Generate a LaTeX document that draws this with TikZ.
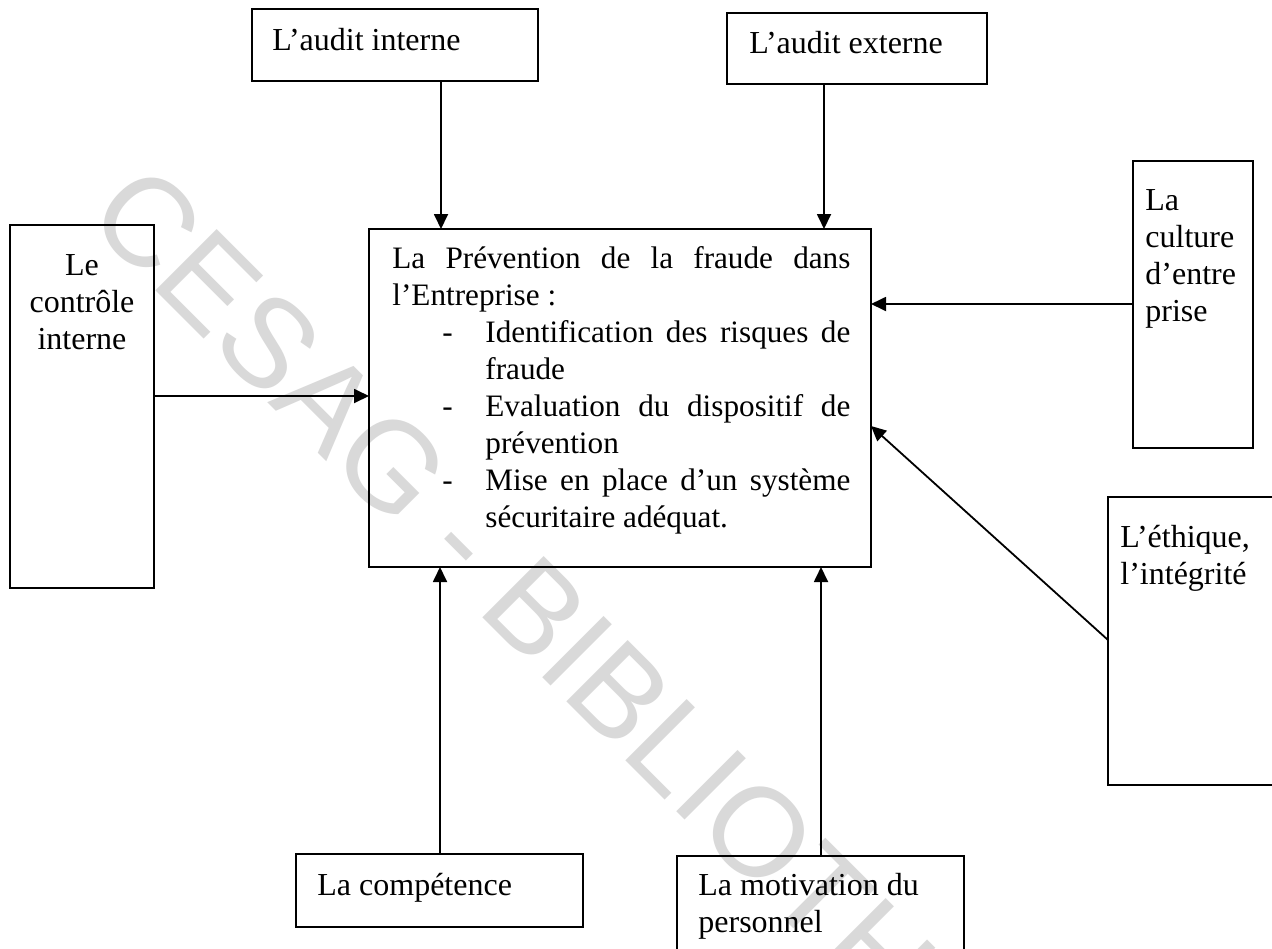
\documentclass[tikz,border=0pt]{standalone}
\usepackage{fontspec}
\setmainfont{Liberation Serif}
\newfontfamily\wmfont{Liberation Sans}
\usetikzlibrary{arrows.meta}
\begin{document}
\begin{tikzpicture}[x=0.5pt, y=-0.5pt,
  box/.style={draw, line width=1.1pt, inner sep=0pt, outer sep=0pt},
  conn/.style={-{Triangle[length=7.5pt,width=7pt]}, line width=0.9pt},
  txt/.style={inner sep=0pt, anchor=base west, font=\fontsize{16pt}{18.5pt}\selectfont},
  wmark/.style={rotate=-45, anchor=base west, inner sep=0pt, text=black!15, font=\wmfont\fontsize{63pt}{63pt}\selectfont}]
\useasboundingbox (0,0) rectangle (1272,948);
\clip (0,0) rectangle (1272,948);
\fill[white] (0,0) rectangle (1272,948);
% watermark
\node[wmark] (wm) at (84,219) {CESAG - BIBLIOTHEQUE};
% boxes
\node[box, minimum width=143pt, minimum height=36pt] (ai) at (395,45) {};
\node[box, minimum width=130pt, minimum height=35.5pt] (ae) at (857,48.5) {};
\node[box, minimum width=251pt, minimum height=169pt] (cen) at (620,398) {};
\node[box, minimum width=72pt, minimum height=181.5pt] (ci) at (82,406.5) {};
\node[box, minimum width=60pt, minimum height=143.5pt] (cu) at (1193,304.5) {};
\node[box, minimum width=93.5pt, minimum height=144pt] (et) at (1201.5,641) {};
\node[box, minimum width=143.5pt, minimum height=36.5pt] (co) at (439.5,890.5) {};
\node[box, minimum width=143.5pt, minimum height=62pt] (mo) at (820.5,918) {};
% texts
\node[txt] (tai) at (272,50) {L’audit interne};
\node[txt] (tae) at (749,53) {L’audit externe};
\node[txt, anchor=base] (tci) at (82,275) {\begin{tabular}[t]{@{}c@{}}Le\\contrôle\\interne\end{tabular}};
\node[txt] (tcu) at (1145,210) {\begin{tabular}[t]{@{}l@{}}La\\culture\\d’entre\\prise\end{tabular}};
\node[txt] (tet) at (1120,547) {\begin{tabular}[t]{@{}l@{}}L’éthique,\\l’intégrité\end{tabular}};
\node[txt] (tco) at (317,895) {La compétence};
\node[txt] (tmo) at (698,895) {\begin{tabular}[t]{@{}l@{}}La motivation du\\personnel\end{tabular}};
\node[txt, font=\fontsize{15.6pt}{18.5pt}\selectfont] (tcen) at (392,268) {\parbox[t]{229pt}{\parindent=0pt
La Prévention de la fraude dans\linebreak l’Entreprise~:\par
{\leftskip=46.5pt\noindent\llap{\makebox[21.5pt][l]{-}}Identification des risques de\linebreak fraude\par}
{\leftskip=46.5pt\noindent\llap{\makebox[21.5pt][l]{-}}Evaluation du dispositif de\linebreak prévention\par}
{\leftskip=46.5pt\noindent\llap{\makebox[21.5pt][l]{-}}Mise en place d’un système\linebreak sécuritaire adéquat.\par}}};
% connector helpers
\coordinate (xai) at (441,0);
\coordinate (xae) at (824,0);
\coordinate (xco) at (440,0);
\coordinate (xmo) at (821,0);
\coordinate (yci) at (0,396);
\coordinate (ycu) at (0,304);
\coordinate (yet) at (0,640);
\coordinate (yce) at (0,426);
% connectors
\draw[conn] (ai.south -| xai) -- (cen.north -| xai);
\draw[conn] (ae.south -| xae) -- (cen.north -| xae);
\draw[conn] (ci.east |- yci) -- (cen.west |- yci);
\draw[conn] (cu.west |- ycu) -- (cen.east |- ycu);
\draw[conn] (et.west |- yet) -- (cen.east |- yce);
\draw[conn] (co.north -| xco) -- (cen.south -| xco);
\draw[conn] (mo.north -| xmo) -- (cen.south -| xmo);
\end{tikzpicture}
\end{document}
